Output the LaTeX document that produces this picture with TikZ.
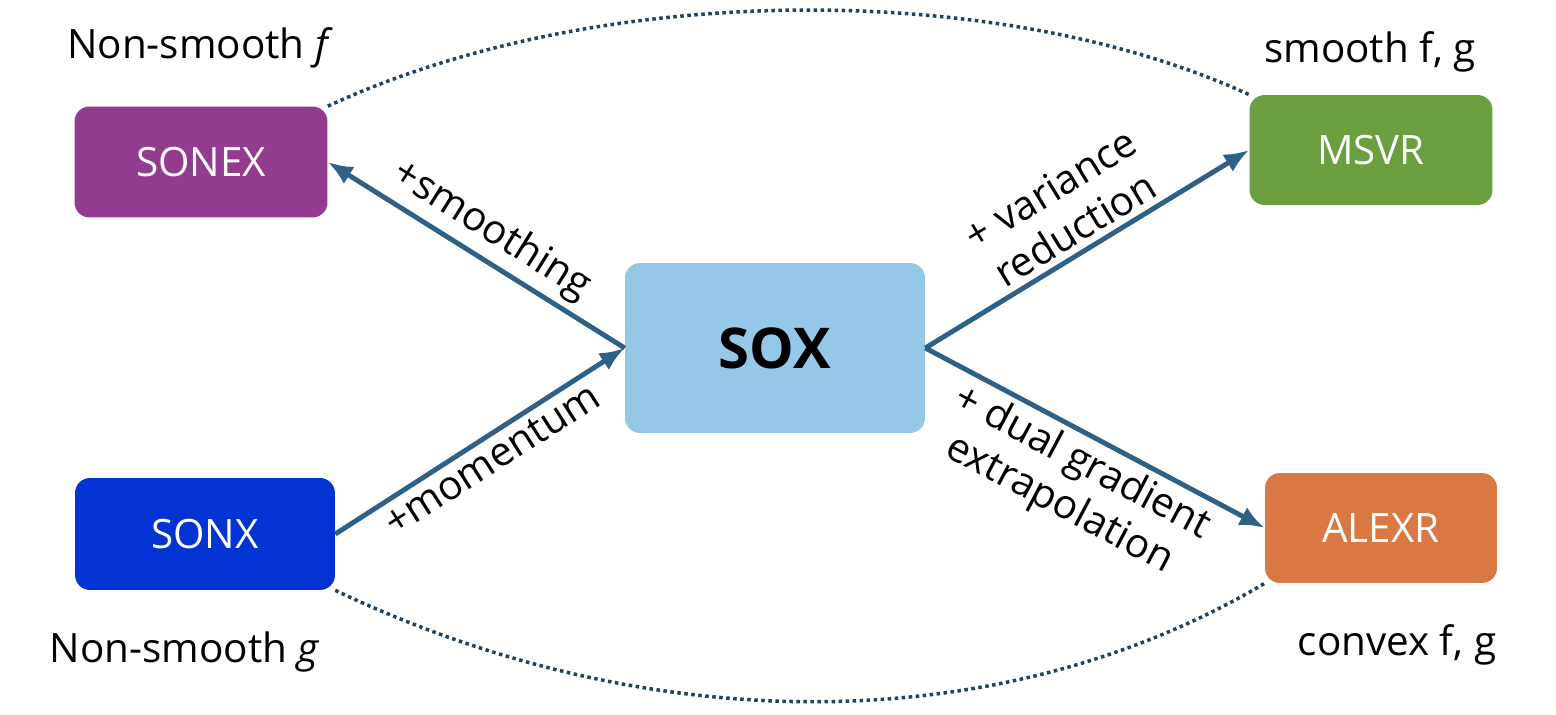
\documentclass[tikz,border=0pt]{standalone}
\usepackage{fontspec}
\setmainfont{Open Sans}
\usetikzlibrary{arrows.meta}
\definecolor{sonexc}{HTML}{933B8F}
\definecolor{sonxc}{HTML}{0433D3}
\definecolor{soxc}{HTML}{95C8E6}
\definecolor{msvrc}{HTML}{6A9F3F}
\definecolor{alexrc}{HTML}{D97843}
\definecolor{arrc}{HTML}{2F6085}
\begin{document}
\begin{tikzpicture}[x=0.02cm,y=-0.02cm,
  box/.style={rounded corners=0.3cm,text=white,font=\fontsize{23}{27}\selectfont},
  arr/.style={-{Latex[length=0.5cm,width=0.4cm]},line width=2.8pt,draw=arrc},
  lbl/.style={font=\fontsize{23}{27}\selectfont,align=center},
  dots/.style={dotted,line width=2pt,draw=arrc!70!black}]
\useasboundingbox (0,0) rectangle (1556,714);
% boxes
\node[box,fill=sonexc,minimum width=5.06cm,minimum height=2.22cm] (sonex) at (201,162) {SONEX};
\node[box,fill=sonxc,minimum width=5.2cm,minimum height=2.24cm] (sonx) at (205,534) {SONX};
\node[box,fill=soxc,text=black,minimum width=6cm,minimum height=3.4cm,font=\fontsize{32}{36}\selectfont\bfseries] (sox) at (775,348) {SOX};
\node[box,fill=msvrc,minimum width=4.86cm,minimum height=2.2cm] (msvr) at (1371,150) {MSVR};
\node[box,fill=alexrc,minimum width=4.64cm,minimum height=2.2cm] (alexr) at (1381,528) {ALEXR};
% side labels
\node[lbl] (nsf) at (200,48) {Non-smooth \textit{f}};
\node[lbl] (sfg) at (1370,52) {smooth f, g};
\node[lbl] (nsg) at (185,652) {Non-smooth \textit{g}};
\node[lbl] (cfg) at (1397,645) {convex f, g};
% arrows
\draw[arr] (sox.west) -- node[lbl,above,sloped] {+smoothing} (sonex.east);
\draw[arr] (sonx.east) -- node[lbl,below,sloped] {+momentum} (sox.west);
\draw[arr] (sox.east) -- node[lbl,above,sloped] {+ variance\\reduction} (msvr.west);
\draw[arr] (sox.east) -- node[lbl,below,sloped] {+ dual gradient\\extrapolation} (alexr.west);
% dotted curves
\draw[dots] (sonex.north east) .. controls (600,-20) and (1000,-20) .. (msvr.north west);
\draw[dots] (sonx.south east) .. controls (650,740) and (1000,740) .. (alexr.south west);
\end{tikzpicture}
\end{document}
